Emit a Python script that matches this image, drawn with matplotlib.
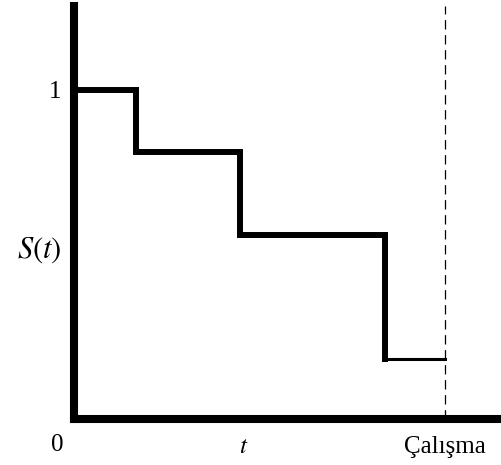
import matplotlib.pyplot as plt

plt.rcParams['font.family'] = ['Liberation Serif', 'DejaVu Serif']
plt.rcParams['mathtext.fontset'] = 'stix'

# step times (fraction of the axis) and survival levels
times = [0.0, 0.145, 0.389, 0.728]
levels = [1.0, 0.812, 0.559, 0.182]
t_end = 0.869

ytick_pos = [1.0, 0.526]
ytick_lab = ['1', '$S(t)$']
xtick_pos = [0.398, t_end]
xtick_lab = ['$t$', 'Çalışma']


def main():
    fig = plt.figure(figsize=(5.01, 4.65), dpi=100)
    ax = fig.add_axes([0.1477, 0.0989, 0.8523, 0.888])

    # thick part of the step curve, up to the last drop
    ax.step(times + [times[-1]], levels + [levels[-1]], where='post',
            color='black', lw=4.3, solid_joinstyle='miter')
    # last level drawn thinner
    ax.plot([times[-1], t_end], [levels[-1], levels[-1]], color='black', lw=2.2)
    ax.axvline(t_end, color='black', lw=0.9, linestyle=(0, (7.5, 4.5)))

    ax.set_xlim(0, 1)
    ax.set_ylim(0, 1.255)

    for s in ['top', 'right']:
        ax.spines[s].set_visible(False)
    for s in ['left', 'bottom']:
        ax.spines[s].set_linewidth(5.8)
        ax.spines[s].set_capstyle('projecting')

    ax.set_yticks(ytick_pos)
    ax.set_yticklabels(ytick_lab, fontsize=18)
    ax.get_yticklabels()[1].set_fontsize(22)
    ax.set_xticks(xtick_pos)
    ax.set_xticklabels(xtick_lab, fontsize=18)
    ax.tick_params(length=0, pad=12)
    ax.tick_params(axis='y', pad=9)
    ax.text(-0.04, -0.08, '0', transform=ax.transData, fontsize=18,
            ha='center', va='center', clip_on=False)

    fig.savefig('out.png', dpi=100)


main()
